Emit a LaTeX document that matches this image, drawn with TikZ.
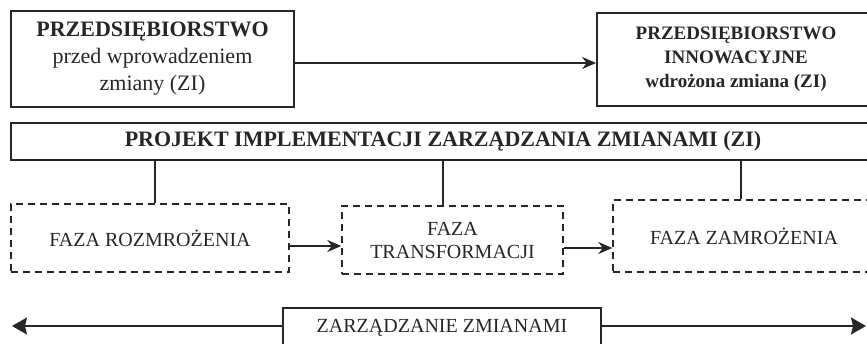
\documentclass[tikz,border=0pt]{standalone}
\usepackage{fontspec}
\setmainfont{Liberation Serif}
\usetikzlibrary{arrows.meta}
\colorlet{ink}{black!85}
\tikzset{
  solidbox/.style={draw=ink, line width=1.8pt, inner sep=0pt, align=center, text=ink},
  phasebox/.style={draw=ink, line width=1.4pt, dash pattern=on 7pt off 5pt, inner sep=0pt,
    align=center, text=ink, font=\fontsize{20}{23}\selectfont},
  flow/.style={draw=ink, line width=2pt, -{Stealth[length=14pt,width=12pt]}},
  bigflow/.style={draw=ink, line width=2pt, -{Stealth[length=15pt,width=17pt,inset=2pt]}},
  link/.style={draw=ink, line width=1.3pt},
}
\begin{document}
\begin{tikzpicture}[x=1pt,y=-1pt]
  \useasboundingbox (0,0) rectangle (867,344);
  \clip (0,0) rectangle (867,344);
  % enterprise before and after
  \node[solidbox, minimum width=283pt, minimum height=96pt,
        font=\fontsize{22}{27}\selectfont] (before) at (152.5,59)
    {\bfseries PRZEDSIĘBIORSTWO\\przed wprowadzeniem\\zmiany (ZI)};
  \node[solidbox, minimum width=278pt, minimum height=93pt,
        font=\fontsize{19}{24}\selectfont\bfseries] (after) at (736,59.5)
    {PRZEDSIĘBIORSTWO\\INNOWACYJNE\\wdrożona zmiana (ZI)};
  \draw[flow] ([yshift=-4pt]before.east) -- ([yshift=-4pt]before.east -| after.west);
  % project bar
  \node[solidbox, minimum width=864pt, minimum height=37pt,
        font=\fontsize{22}{26}\selectfont\bfseries] (project) at (443,141.5)
    {PROJEKT IMPLEMENTACJI ZARZĄDZANIA ZMIANAMI (ZI)};
  % phases
  \node[phasebox, minimum width=278pt, minimum height=68pt] (unfreeze) at (150,238)
    {FAZA ROZMROŻENIA};
  \node[phasebox, minimum width=221pt, minimum height=68pt] (change) at (452.5,240)
    {FAZA\\TRANSFORMACJI};
  \node[phasebox, minimum width=262pt, minimum height=72pt] (refreeze) at (744,236)
    {FAZA ZAMROŻENIA};
  \draw[link] ([xshift=5pt]unfreeze.north) -- ([xshift=5pt]unfreeze.north |- project.south);
  \draw[link] ([xshift=-9.5pt]change.north) -- ([xshift=-9.5pt]change.north |- project.south);
  \draw[link] ([xshift=-3pt]refreeze.north) -- ([xshift=-3pt]refreeze.north |- project.south);
  \draw[flow] ([yshift=-8pt]unfreeze.east) -- ([yshift=-8pt]unfreeze.east -| change.west);
  \draw[flow] ([yshift=-8pt]change.east) -- ([yshift=-8pt]change.east -| refreeze.west);
  % change management
  \node[solidbox, minimum width=318pt, minimum height=40pt,
        font=\fontsize{20}{24}\selectfont] (manage) at (442,328)
    {ZARZĄDZANIE ZMIANAMI};
  \coordinate (leftend) at (12,326);
  \coordinate (rightend) at (866,326);
  \draw[bigflow] (manage.west |- leftend) -- (leftend);
  \draw[bigflow] (manage.east |- rightend) -- (rightend);
\end{tikzpicture}
\end{document}
